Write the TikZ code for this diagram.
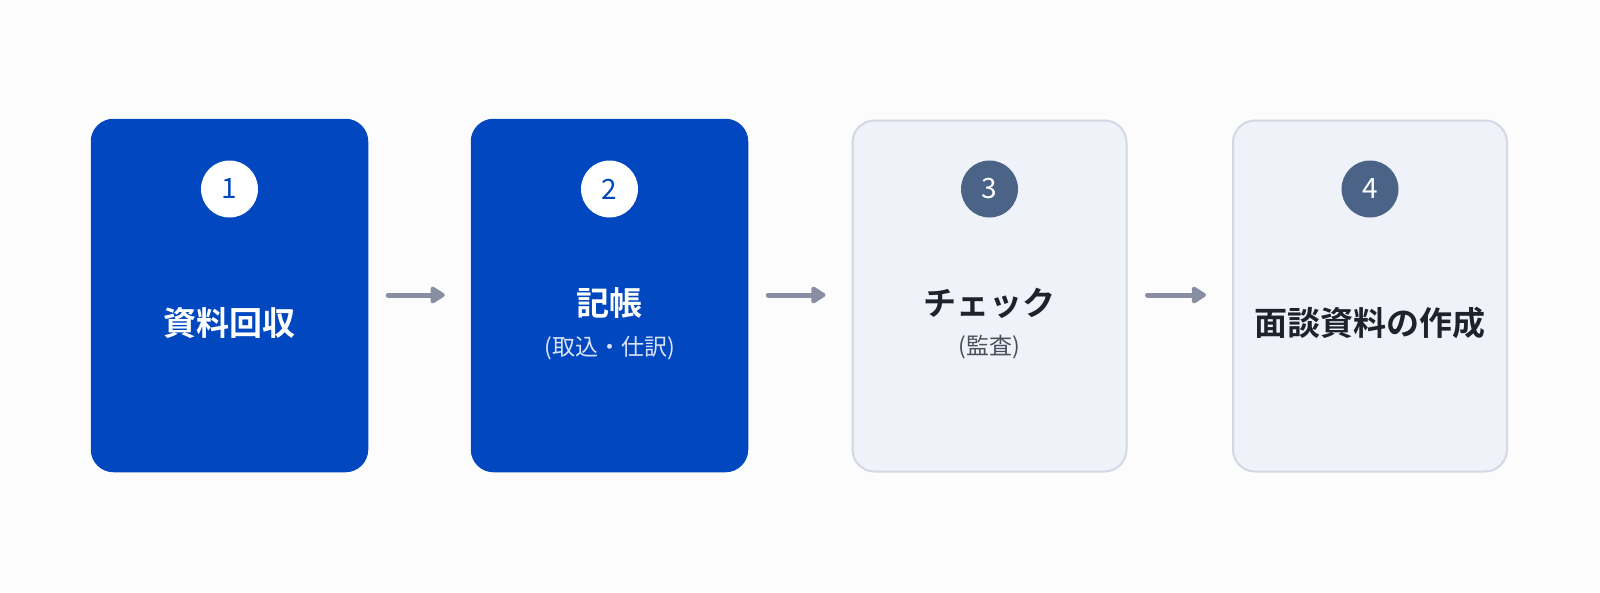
\documentclass[tikz,border=0pt]{standalone}
\usepackage{fontspec}
\setmainfont{Noto Sans CJK JP}
\newfontfamily\jpb{Noto Sans CJK JP Bold}
\usetikzlibrary{arrows.meta}
\definecolor{bgc}{HTML}{FCFCFD}
\definecolor{blueb}{HTML}{0047C0}
\definecolor{paleb}{HTML}{F0F2FA}
\definecolor{paleline}{HTML}{D4D7E4}
\definecolor{slate}{HTML}{4A6386}
\definecolor{darkt}{HTML}{1E222D}
\definecolor{subg}{HTML}{4A4F5C}
\definecolor{subl}{HTML}{DCE3F7}
\definecolor{arr}{HTML}{8A8EA2}
\tikzset{
  activebox/.style={rounded corners=22pt, fill=blueb, draw=blueb, line width=1.5pt, minimum width=276pt, minimum height=352pt, inner sep=0pt},
  idlebox/.style={rounded corners=22pt, fill=paleb, draw=paleline, line width=2pt, minimum width=274pt, minimum height=351pt, inner sep=0pt},
  numa/.style={circle, fill=white, minimum size=57pt, inner sep=0pt, text=blueb, font=\fontsize{28}{28}\selectfont},
  numb/.style={circle, fill=slate, minimum size=57pt, inner sep=0pt, text=white, font=\fontsize{28}{28}\selectfont},
  titlea/.style={text=white, font=\jpb\fontsize{33}{33}\selectfont, inner sep=0pt},
  titleb/.style={text=darkt, font=\jpb\fontsize{33}{33}\selectfont, inner sep=0pt},
  suba/.style={text=subl, font=\fontsize{23}{23}\selectfont, inner sep=0pt},
  subb/.style={text=subg, font=\fontsize{23}{23}\selectfont, inner sep=0pt},
  flow/.style={draw=arr, line width=5pt, line cap=round, -{Triangle[round, length=16pt, width=19pt]}, shorten <=20pt, shorten >=26pt}
}
\begin{document}
\begin{tikzpicture}[x=1pt,y=-1pt]
\path[fill=bgc] (0,0) rectangle (1600,592);
\useasboundingbox (0,0) rectangle (1600,592);
\node[activebox] (b1) at (229.5,295.5) {};
\node[activebox] (b2) at (609.5,295.5) {};
\node[idlebox] (b3) at (989.5,296) {};
\node[idlebox] (b4) at (1370,296) {};
\node[numa] (n1) at (229.5,189) {1};
\node[numa] (n2) at (609.5,189) {2};
\node[numb] (n3) at (989.5,189) {3};
\node[numb] (n4) at (1370,189) {4};
\node[titlea] (t1) at (229.5,323) {資料回収};
\node[titlea] (t2) at (609.5,303) {記帳};
\node[suba] (s2) at (609.5,348) {(取込・仕訳)};
\node[titleb] (t3) at (989.5,303) {チェック};
\node[subb] (s3) at (989.5,347) {(監査)};
\node[titleb] (t4) at (1370,323) {面談資料の作成};
\draw[flow] (b1.east |- 0,295) -- (b2.west |- 0,295);
\draw[flow] (b2.east |- 0,295) -- (b3.west |- 0,295);
\draw[flow] (b3.east |- 0,295) -- (b4.west |- 0,295);
\end{tikzpicture}
\end{document}
